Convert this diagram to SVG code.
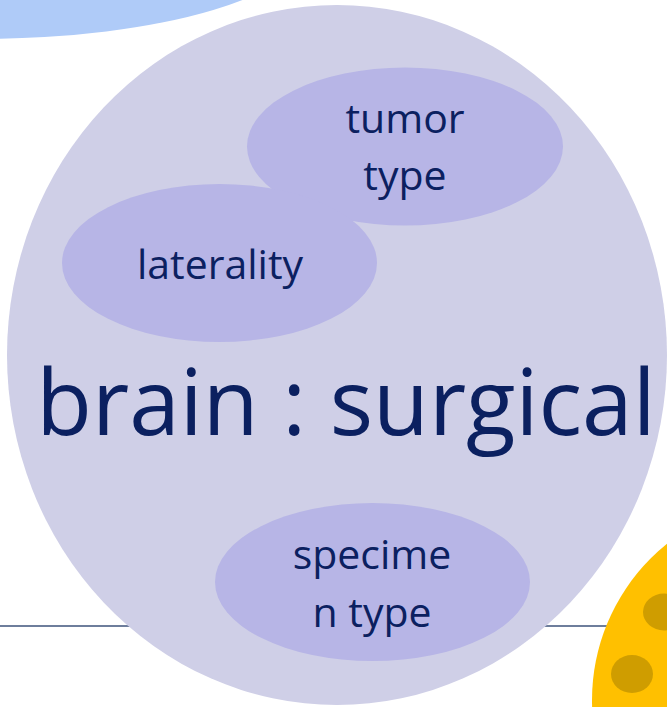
<svg xmlns="http://www.w3.org/2000/svg" width="667" height="707" viewBox="0 0 667 707">
<style>
  .txt { font-family: "Open Sans", "Noto Sans", sans-serif; fill: #0B2060; text-anchor: middle; }
  .small { font-size: 41px; }
  .big { font-size: 91px; }
  .sub { fill: #B7B5E6; }
  .dot { fill: #CF9D00; }
</style>
<rect width="667" height="707" fill="#FFFFFF"/>
<g id="connectors">
  <line x1="0" y1="626" x2="620" y2="626" stroke="#6E7E9C" stroke-width="2"/>
</g>
<g id="blue-shape">
  <ellipse cx="-20" cy="-60" rx="330" ry="99" fill="#AFCBF8"/>
</g>
<g id="yellow-shape">
  <circle cx="792" cy="700" r="200" fill="#FFC000"/>
  <ellipse class="dot" cx="664" cy="612" rx="21" ry="18.5"/>
  <ellipse class="dot" cx="632" cy="674" rx="21" ry="19"/>
</g>
<g id="brain-surgical">
  <ellipse cx="337" cy="355" rx="330" ry="350" fill="#CFCFE7"/>
  <text class="txt big" x="346" y="435">brain : surgical</text>
</g>
<g id="tumor-type">
  <ellipse class="sub" cx="405" cy="146.5" rx="158" ry="79"/>
  <text class="txt small" x="405" y="133">tumor</text>
  <text class="txt small" x="405" y="190">type</text>
</g>
<g id="laterality">
  <ellipse class="sub" cx="219.5" cy="263" rx="157.5" ry="79"/>
  <text class="txt small" x="220" y="279">laterality</text>
</g>
<g id="specimen-type">
  <ellipse class="sub" cx="372.5" cy="582" rx="157.5" ry="79"/>
  <text class="txt small" x="372" y="569">specime</text>
  <text class="txt small" x="372" y="627">n type</text>
</g>
</svg>
